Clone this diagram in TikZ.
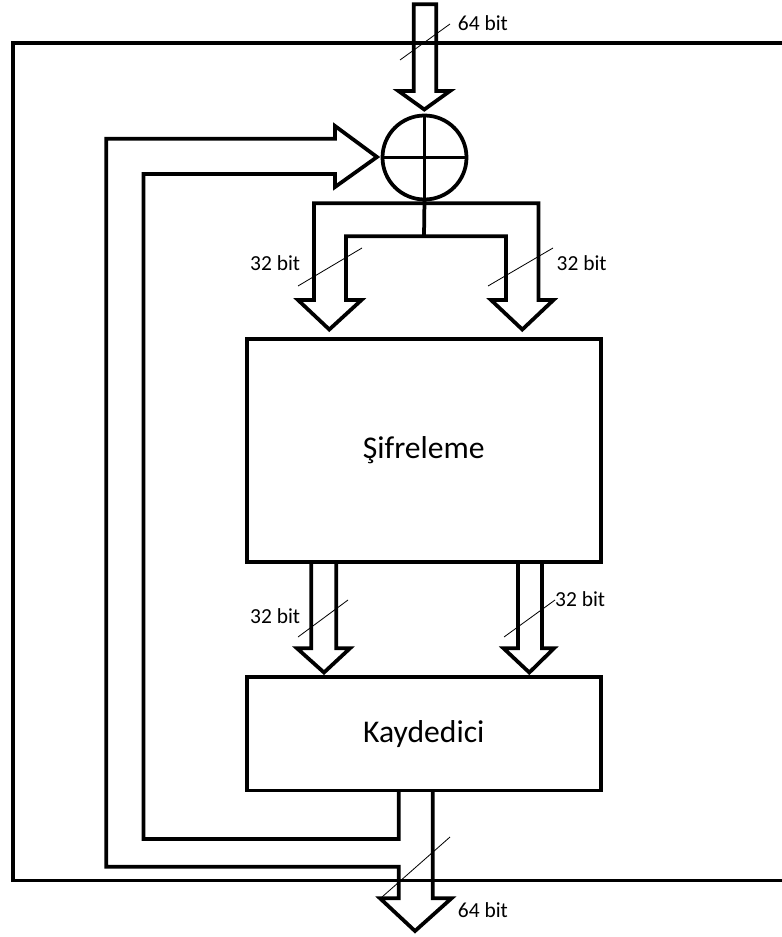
\documentclass[tikz,border=0pt]{standalone}
\usepackage{fontspec}
\setmainfont{Carlito}
\tikzset{
  wire/.style={black,line width=3.2pt},
  buscut/.style={black,line width=0.7pt},
  block/.style={draw=black,line width=3.2pt,outer sep=0pt,inner sep=0pt,
                minimum width=106.3mm,font=\fontsize{27}{32}\selectfont},
  xorgate/.style={circle,draw=black,line width=3.2pt,outer sep=0pt,inner sep=0pt,
                  minimum size=25.2mm},
  buswidth/.style={anchor=base west,inner sep=0pt,font=\fontsize{18.3}{22}\selectfont},
}

\begin{document}
\begin{tikzpicture}[x=0.3mm,y=-0.3mm]
  \path[use as bounding box] (0,0) rectangle (782,937);

  % outer frame, open to the right
  \draw[wire] (782,43.3) -- (13,43.3) -- (13,880.5) -- (782,880.5);

  \node[block,minimum height=67mm] (sifre) at (423.8,450.6) {Şifreleme};
  \node[block,minimum height=34.1mm] (kayd) at (423.8,733.6) {Kaydedici};
  \node[xorgate] (xor) at (424.5,157.5) {};
  \draw[wire] (xor.north) -- (xor.south) (xor.west) -- (xor.east);

  % 64 bit input
  \draw[wire] (413.7,4.3) -- (413.7,91) -- (398.5,91) -- (424.3,109.5) -- (450,91)
    -- (436.3,91) -- (436.3,4.3) -- cycle;

  % split into two 32 bit halves
  \draw[wire] (xor.south) -- (424,236.3);
  \draw[wire] (346,236.3) -- (346,300) -- (361.5,300) -- (329.3,329.5) -- (298,300)
    -- (314,300) -- (314,203.3) -- (538.5,203.3) -- (538.5,300) -- (553.5,300)
    -- (522.3,329.5) -- (491,300) -- (506,300) -- (506,236.3) -- cycle;

  % Sifreleme to Kaydedici
  \draw[wire] (311.3,0 |- sifre.south) -- (311.3,648.3) -- (297,648.3) -- (324,672.5)
    -- (350,648.3) -- (336.3,648.3) -- (336.3,0 |- sifre.south);
  \draw[wire] (518,0 |- sifre.south) -- (518,648.3) -- (503.5,648.3) -- (529.3,672.5)
    -- (554,648.3) -- (542,648.3) -- (542,0 |- sifre.south);

  % output and feedback to the adder
  \draw[wire] (398.7,0 |- kayd.south) -- (398.7,839) -- (143.5,839) -- (143.5,174)
    -- (335,174) -- (335,187) -- (377,157) -- (335,126) -- (335,138.7) -- (106.3,138.7)
    -- (106.3,866.7) -- (398.7,866.7) -- (398.7,898.3) -- (380,898.3) -- (415,931)
    -- (451.5,898.3) -- (432.7,898.3) -- (432.7,0 |- kayd.south);

  % bus width marks
  \draw[buscut] (400,60) -- (450,24);
  \draw[buscut] (298,286) -- (362,248);
  \draw[buscut] (488,286) -- (553,248);
  \draw[buscut] (298,637) -- (348,600);
  \draw[buscut] (504,637) -- (555,600);
  \draw[buscut] (382,897) -- (450,837);

  \node[buswidth] (win) at (457.7,31) {64 bit};
  \node[buswidth] (wleft) at (250,270) {32 bit};
  \node[buswidth] (wright) at (556.5,270) {32 bit};
  \node[buswidth] (wlowleft) at (250,623) {32 bit};
  \node[buswidth] (wlowright) at (555,606) {32 bit};
  \node[buswidth] (wout) at (457.7,917) {64 bit};
\end{tikzpicture}
\end{document}
